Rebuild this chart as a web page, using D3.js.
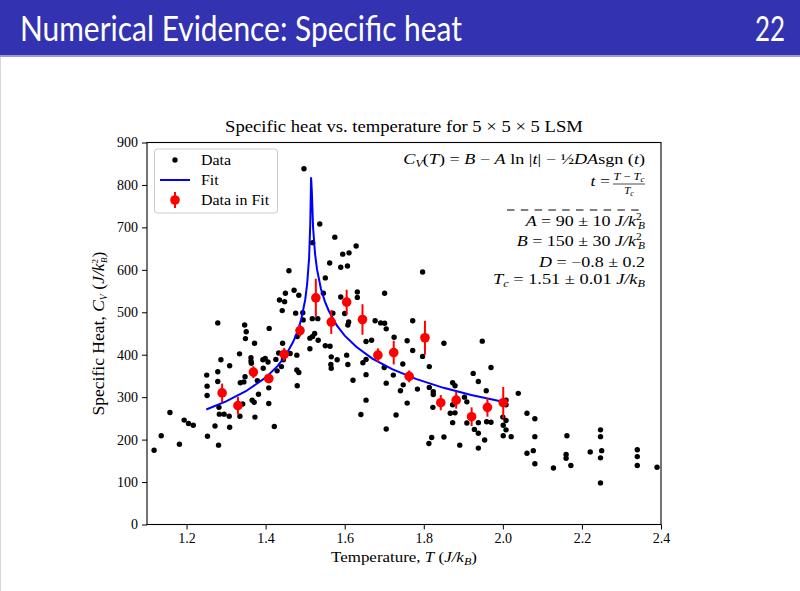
<!DOCTYPE html>
<html><head><meta charset="utf-8">
<script src="https://cdn.jsdelivr.net/npm/d3@7"></script>
<style>body{margin:0;background:#fff;overflow:hidden}svg{display:block}</style>
</head><body>
<svg id="c" width="800" height="591"></svg>
<script>
// ---------- data ----------
const dataT = [1.118,1.136,1.158,1.182,1.194,1.205,1.217,
1.251,1.252,1.252,1.253,1.279,1.287,1.279,1.279,1.282,1.283,1.295,1.272,1.281,1.309,1.308,1.309,
1.334,1.347,1.351,1.349,1.372,1.363,1.363,1.364,1.336,1.345,1.348,1.335,1.342,1.366,1.371,1.373,1.382,1.379,
1.394,1.393,1.399,1.406,1.409,1.408,1.408,1.422,1.426,1.433,1.443,1.445,1.440,1.429,1.462,1.442,1.448,1.459,1.450,1.435,
1.472,1.484,1.476,1.494,1.495,1.480,1.512,1.512,1.479,1.479,1.484,1.480,1.519,1.524,1.533,1.518,1.532,1.497,1.537,1.519,
1.562,1.551,1.546,1.575,1.595,1.611,1.629,1.590,1.607,1.590,1.632,1.632,1.570,1.600,1.610,1.608,1.551,1.563,1.566,1.565,1.566,1.581,1.605,1.608,1.621,1.641,
1.646,1.654,1.654,1.654,1.654,1.668,1.677,1.691,1.701,1.705,1.701,1.725,1.700,1.705,1.723,1.705,1.730,1.741,1.748,
1.747,1.758,1.772,1.772,1.797,1.797,1.814,1.784,1.814,1.824,1.824,1.823,1.758,1.851,1.813,1.820,1.851,1.867,
1.873,1.879,1.873,1.879,1.873,1.891,1.903,1.909,1.909,1.925,1.938,1.928,1.938,1.938,1.938,1.948,1.958,1.954,1.970,1.959,1.970,
2.000,2.001,2.008,2.001,2.008,2.008,2.008,2.021,2.039,2.061,2.081,2.081,2.061,2.077,2.081,2.128,2.162,2.160,2.160,2.172,2.221,2.247,2.247,2.250,2.247,2.247,2.340,2.340,2.340,2.390];
const dataC = [175,209,264,189,246,238,234,
352,326,304,208,475,388,360,337,276,260,260,232,187,374,255,229,
402,470,454,438,427,393,385,380,334,336,348,255,284,293,288,253,307,339,
368,388,391,383,462,322,285,231,389,404,427,388,372,362,403,504,525,598,545,529,
552,540,498,499,482,443,439,414,399,364,358,327,443,450,434,485,485,838,708,664,
616,581,545,677,637,640,656,606,609,536,548,535,498,497,477,470,421,420,395,377,368,388,399,377,340,259,
381,389,353,293,431,434,480,475,474,461,545,441,370,333,352,225,258,315,329,
378,433,410,480,595,396,372,319,323,313,306,276,286,427,191,205,206,262,
334,327,282,263,240,187,300,289,239,356,337,224,215,180,240,432,315,199,370,242,241,
253,234,223,209,245,293,282,207,309,262,249,207,168,174,143,133,209,165,156,139,171,223,207,174,157,98,176,160,139,135];

const fitT = [1.25,1.30,1.35,1.40,1.43,1.45,1.47,1.48,1.49,1.50,1.505,1.51,1.513,1.515,1.517,1.52,1.525,1.53,1.54,1.55,1.56,1.58,1.60,1.63,1.67,1.72,1.78,1.85,1.92,2.00];
const fitC = [271,290,314,346,373,397,431,453,483,529,566,628,711,818,783,700,638,601,555,525,503,469,445,418,391,366,343,322,305,289];

const fitDataT = [1.290,1.330,1.369,1.408,1.447,1.487,1.527,1.566,1.605,1.645,1.684,1.724,1.763,1.803,1.843,1.882,1.921,1.961,2.001];
const fitDataC = [310,280,359,344,401,457,534,477,524,483,399,405,349,440,287,293,254,276,287];
const fitDataErr = [22,21,14,11,15,14,45,28,29,36,16,28,14,40,18,20,22,22,37];

const xTicks = [1.2,1.4,1.6,1.8,2.0,2.2,2.4];
const yTicks = [0,100,200,300,400,500,600,700,800,900];

// ---------- layout ----------
const svg = d3.select('#c');
const SERIF = "'Liberation Serif','DejaVu Serif',serif";
const SANS = "Lato,'Open Sans','DejaVu Sans',sans-serif";
const L = 147, R = 661, T = 142.5, B = 524.5;
const x = d3.scaleLinear().domain([1.1, 2.4]).range([L, R]);
const y = d3.scaleLinear().domain([0, 900]).range([B, T]);

function fitWidth(sel, target) {
  const w = sel.node().getComputedTextLength();
  const fs = parseFloat(sel.attr('font-size'));
  sel.attr('font-size', fs * target / w);
  return sel;
}
// stretch horizontally (keeps height) around anchor ax
function hfit(sel, target, ax) {
  const w = sel.node().getComputedTextLength();
  const s = target / w;
  sel.attr('transform', `translate(${ax},0) scale(${s},1) translate(${-ax},0)`);
  return sel;
}
function rich(sel, parts) {
  parts.forEach(p => {
    const ts = sel.append('tspan').text(p.t);
    if (p.i) ts.attr('font-style', 'italic');
    if (p.dy !== undefined) ts.attr('dy', p.dy);
    if (p.dx !== undefined) ts.attr('dx', p.dx);
    if (p.fs) ts.attr('font-size', p.fs);
  });
  return sel;
}

// ---------- slide header ----------
svg.append('rect').attr('x', 0).attr('y', 0).attr('width', 800).attr('height', 55).attr('fill', '#3333b2');
svg.append('rect').attr('x', 0).attr('y', 55).attr('width', 800).attr('height', 2).attr('fill', '#9a9ad8');
svg.append('line').attr('x1', 0.5).attr('x2', 0.5).attr('y1', 57).attr('y2', 591).attr('stroke', '#d8d8d8');
svg.append('text').attr('x', 20).attr('y', 41).attr('fill', '#fff')
  .attr('font-family', SANS).attr('font-size', 34)
  .attr('textLength', 442).attr('lengthAdjust', 'spacingAndGlyphs')
  .text('Numerical Evidence: Specific heat');
svg.append('text').attr('x', 755).attr('y', 41).attr('fill', '#fff')
  .attr('font-family', SANS).attr('font-size', 34)
  .attr('textLength', 30).attr('lengthAdjust', 'spacingAndGlyphs').text('22');

// ---------- chart title ----------
const title = svg.append('text').attr('x', (L + R) / 2).attr('y', 132).attr('text-anchor', 'middle')
  .attr('font-family', SERIF).attr('font-size', 16).text('Specific heat vs. temperature for 5 × 5 × 5 LSM');
hfit(title, 358, (L + R) / 2);

// ---------- axes ----------
const gx = svg.append('g').attr('transform', `translate(0,${B})`)
  .call(d3.axisBottom(x).tickValues(xTicks).tickFormat(d3.format('.1f')).tickSize(5).tickPadding(4));
const gy = svg.append('g').attr('transform', `translate(${L},0)`)
  .call(d3.axisLeft(y).tickValues(yTicks).tickFormat(d3.format('d')).tickSize(5).tickPadding(4));
[gx, gy].forEach(g => {
  g.select('.domain').remove();
  g.selectAll('line').attr('stroke', '#000').attr('stroke-width', 1);
  g.selectAll('text').attr('font-family', SERIF).attr('font-size', 14).attr('fill', '#000');
});
svg.append('rect').attr('x', L).attr('y', T).attr('width', R - L).attr('height', B - T)
  .attr('fill', 'none').attr('stroke', '#000').attr('stroke-width', 1.1);

// axis labels
const xl = svg.append('text').attr('x', (L + R) / 2).attr('y', 562).attr('text-anchor', 'middle')
  .attr('font-family', SERIF).attr('font-size', 14);
rich(xl, [{t: 'Temperature, '}, {t: 'T', i: 1}, {t: ' ('}, {t: 'J/k', i: 1},
  {t: 'B', i: 1, fs: 10, dy: 3}, {t: ')', dy: -3}]);
hfit(xl, 146, (L + R) / 2);
const yl = svg.append('text').attr('transform', `translate(104,${(T + B) / 2}) rotate(-90)`)
  .attr('text-anchor', 'middle').attr('font-family', SERIF).attr('font-size', 14);
rich(yl, [{t: 'Specific Heat, '}, {t: 'C', i: 1}, {t: 'V', i: 1, fs: 10, dy: 3}, {t: ' (', dy: -3},
  {t: 'J/k', i: 1}, {t: '2', fs: 9, dy: -6}, {t: 'B', i: 1, fs: 9, dx: -4, dy: 9}, {t: ')', dy: -3}]);
fitWidth(yl, 172);

// ---------- marks ----------
const plot = svg.append('g');
plot.selectAll('circle.d').data(dataT.map((t, i) => [t, dataC[i]])).join('circle')
  .attr('class', 'd').attr('cx', d => x(d[0])).attr('cy', d => y(d[1])).attr('r', 2.7).attr('fill', '#000');

const line = d3.line().x(d => x(d[0])).y(d => y(d[1]));
plot.append('path').datum(fitT.map((t, i) => [t, fitC[i]])).attr('d', line)
  .attr('fill', 'none').attr('stroke', '#0000ff').attr('stroke-width', 2);

const fd = fitDataT.map((t, i) => ({t, c: fitDataC[i], e: fitDataErr[i]}));
plot.selectAll('line.e').data(fd).join('line').attr('class', 'e')
  .attr('x1', d => x(d.t)).attr('x2', d => x(d.t)).attr('y1', d => y(d.c - d.e)).attr('y2', d => y(d.c + d.e))
  .attr('stroke', '#ff0000').attr('stroke-width', 2);
plot.selectAll('circle.f').data(fd).join('circle').attr('class', 'f')
  .attr('cx', d => x(d.t)).attr('cy', d => y(d.c)).attr('r', 4.8).attr('fill', '#ff0000');

// ---------- legend ----------
const lg = svg.append('g');
lg.append('rect').attr('x', 154.5).attr('y', 149).attr('width', 123).attr('height', 64).attr('rx', 3)
  .attr('fill', '#fff').attr('fill-opacity', 0.8).attr('stroke', '#cccccc');
const legendRows = ['Data', 'Fit', 'Data in Fit'];
legendRows.forEach((name, i) => {
  const cy = 160 + i * 20;
  if (i === 0) lg.append('circle').attr('cx', 175).attr('cy', cy).attr('r', 2.7).attr('fill', '#000');
  if (i === 1) lg.append('line').attr('x1', 160).attr('x2', 190).attr('y1', cy).attr('y2', cy)
    .attr('stroke', '#0000ff').attr('stroke-width', 2);
  if (i === 2) {
    lg.append('line').attr('x1', 175).attr('x2', 175).attr('y1', cy - 8).attr('y2', cy + 8)
      .attr('stroke', '#ff0000').attr('stroke-width', 2);
    lg.append('circle').attr('cx', 175).attr('cy', cy).attr('r', 4.8).attr('fill', '#ff0000');
  }
  const t = lg.append('text').attr('x', 201).attr('y', cy + 5).attr('font-family', SERIF).attr('font-size', 14.5).text(name);
  t.attr('transform', 'translate(201,0) scale(1.1,1) translate(-201,0)');
});

// ---------- annotation ----------
const ax = 645;
const a1 = svg.append('text').attr('x', ax).attr('y', 164).attr('text-anchor', 'end')
  .attr('font-family', SERIF).attr('font-size', 15);
rich(a1, [{t: 'C', i: 1}, {t: 'V', i: 1, fs: 10, dy: 3}, {t: '(', dy: -3}, {t: 'T', i: 1}, {t: ') = '},
  {t: 'B', i: 1}, {t: ' − '}, {t: 'A', i: 1}, {t: ' ln |'}, {t: 't', i: 1}, {t: '| − '}, {t: '½'},
  {t: 'DA', i: 1}, {t: 'sgn ('}, {t: 't', i: 1}, {t: ')'}]);
hfit(a1, 242, ax);

svg.append('text').attr('x', 610).attr('y', 186).attr('text-anchor', 'end')
  .attr('font-family', SERIF).attr('font-size', 15.5).call(s => rich(s, [{t: 't', i: 1}, {t: ' ='}]))
  .attr('transform', 'translate(610,0) scale(1.15,1) translate(-610,0)');
const num = svg.append('text').attr('x', 629).attr('y', 180.5).attr('text-anchor', 'middle')
  .attr('font-family', SERIF).attr('font-size', 11);
rich(num, [{t: 'T', i: 1}, {t: ' − '}, {t: 'T', i: 1}, {t: 'c', i: 1, fs: 8, dy: 2}]);
hfit(num, 31, 629);
svg.append('line').attr('x1', 613).attr('x2', 645).attr('y1', 184).attr('y2', 184).attr('stroke', '#000').attr('stroke-width', 0.7);
const den = svg.append('text').attr('x', 629).attr('y', 193.5).attr('text-anchor', 'middle')
  .attr('font-family', SERIF).attr('font-size', 11);
rich(den, [{t: 'T', i: 1}, {t: 'c', i: 1, fs: 8, dy: 2}]);

svg.append('line').attr('x1', 507).attr('x2', 645).attr('y1', 210).attr('y2', 210)
  .attr('stroke', '#000').attr('stroke-width', 1).attr('stroke-dasharray', '7.5,6.3');

const vals = [
  {y: 226, w: 123, parts: [{t: 'A', i: 1}, {t: ' = 90 ± 10 '}, {t: 'J/k', i: 1}, {t: '2', fs: 9.5, dy: -6}, {t: 'B', i: 1, fs: 9.5, dx: -3, dy: 9}]},
  {y: 246, w: 132, parts: [{t: 'B', i: 1}, {t: ' = 150 ± 30 '}, {t: 'J/k', i: 1}, {t: '2', fs: 9.5, dy: -6}, {t: 'B', i: 1, fs: 9.5, dx: -3, dy: 9}]},
  {y: 267, w: 106, parts: [{t: 'D', i: 1}, {t: ' = −0.8 ± 0.2'}]},
  {y: 284, w: 152, parts: [{t: 'T', i: 1}, {t: 'c', i: 1, fs: 10, dy: 3}, {t: ' = 1.51 ± 0.01 ', dy: -3}, {t: 'J/k', i: 1}, {t: 'B', i: 1, fs: 10, dy: 3}]}
];
vals.forEach(v => {
  const t = svg.append('text').attr('x', ax).attr('y', v.y).attr('text-anchor', 'end')
    .attr('font-family', SERIF).attr('font-size', 15);
  rich(t, v.parts);
  hfit(t, v.w, ax);
});
</script>
</body></html>
